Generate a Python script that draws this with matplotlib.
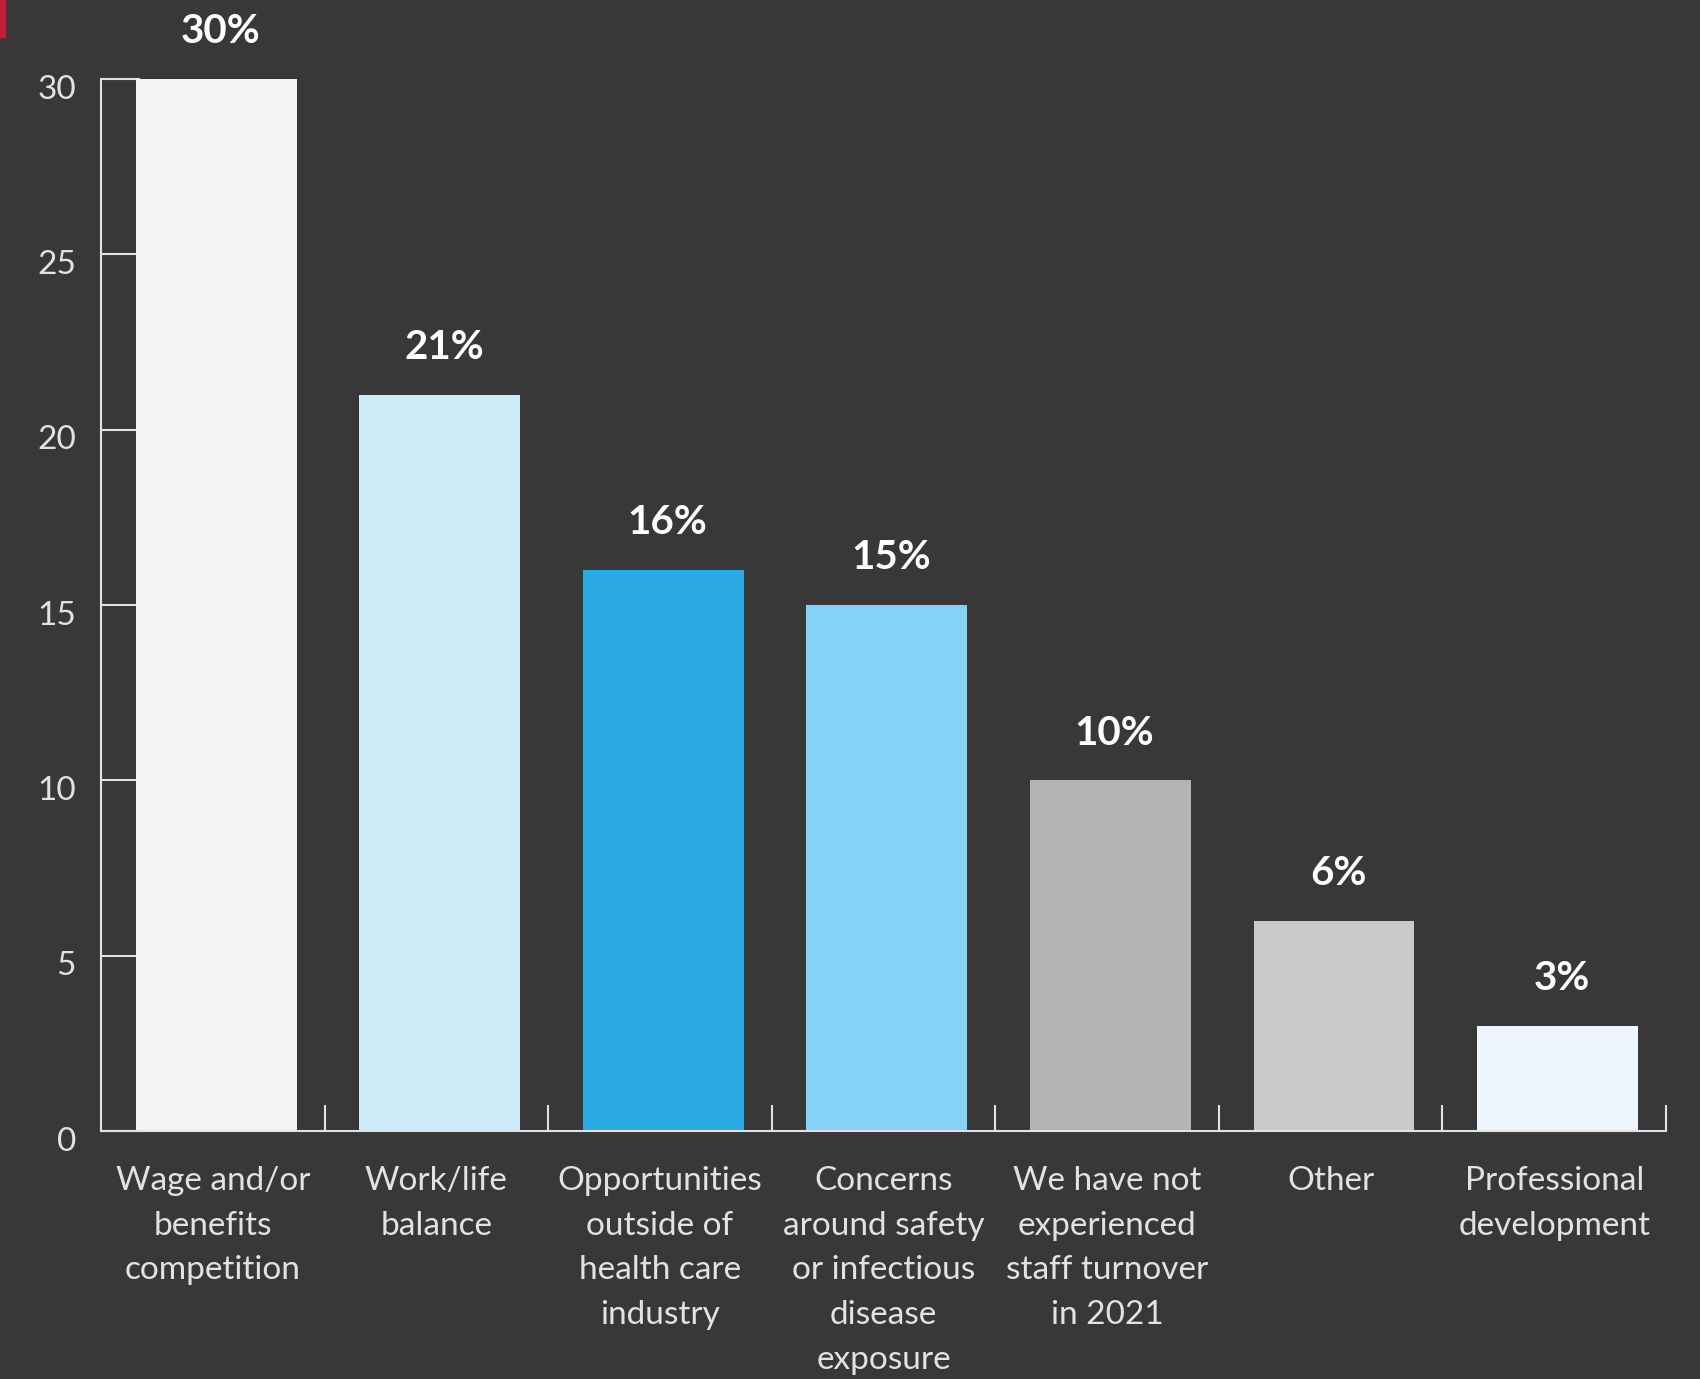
import matplotlib
matplotlib.use("Agg")
import matplotlib.pyplot as plt
import matplotlib.transforms as mtransforms
from matplotlib.patches import Rectangle
import numpy as np

categories = ["Wage and/or\nbenefits\ncompetition", "Work/life\nbalance",
              "Opportunities\noutside of\nhealth care\nindustry",
              "Concerns\naround safety\nor infectious\ndisease\nexposure",
              "We have not\nexperienced\nstaff turnover\nin 2021",
              "Other", "Professional\ndevelopment"]
values = [30, 21, 16, 15, 10, 6, 3]
colors = ["#f2f3f2", "#cdeaf7", "#29aae2", "#84d2f6", "#b3b4b3", "#cacaca", "#eff6fe"]
yticks = [0, 5, 10, 15, 20, 25, 30]

BG = "#383838"
AX = "#e2e2e2"

plt.rcParams['font.family'] = ['Lato', 'DejaVu Sans']

fig = plt.figure(figsize=(17, 13.79), dpi=100, facecolor=BG)
ax = fig.add_axes([101/1700, 1 - 1131/1379, (1666-101)/1700, (1131-79)/1379])
ax.set_facecolor(BG)

x = np.arange(len(categories))
ax.bar(x + 0.015, values, width=0.72, color=colors, zorder=2)
for xi, v in zip(x, values):
    ax.annotate(f"{v}%", (xi + 0.015, v), xytext=(3, 34), textcoords="offset points",
                ha="center", va="center", fontsize=29, fontweight="bold",
                color="white", annotation_clip=False)

ax.set_xlim(-0.5, len(categories) - 0.5)
ax.set_ylim(0, 30)

for s in ["top", "right"]:
    ax.spines[s].set_visible(False)
for s in ["left", "bottom"]:
    ax.spines[s].set_color(AX)
    ax.spines[s].set_linewidth(1.5)

ax.set_yticks(yticks)
ax.set_yticklabels([str(t) for t in yticks])
ax.tick_params(axis="y", direction="in", length=28, width=1.5, color=AX,
               labelcolor=AX, labelsize=24, pad=18)
off = mtransforms.ScaledTranslation(0, -5.5/72, fig.dpi_scale_trans)
for lab in ax.get_yticklabels():
    lab.set_transform(lab.get_transform() + off)

ax.set_xticks(x)
ax.set_xticklabels(categories, fontsize=24, color=AX, linespacing=1.62)
ax.tick_params(axis="x", length=0, pad=25)
ax.set_xticks(np.arange(0.5, len(categories), 1.0), minor=True)
ax.tick_params(axis="x", which="minor", direction="in", length=19, width=1.5, color=AX)

fig.patches.append(Rectangle((0, 1 - 37/1379), 5/1700, 37/1379,
                             transform=fig.transFigure, color="#c41e3a"))

fig.savefig("out.png", dpi=100, facecolor=BG)
